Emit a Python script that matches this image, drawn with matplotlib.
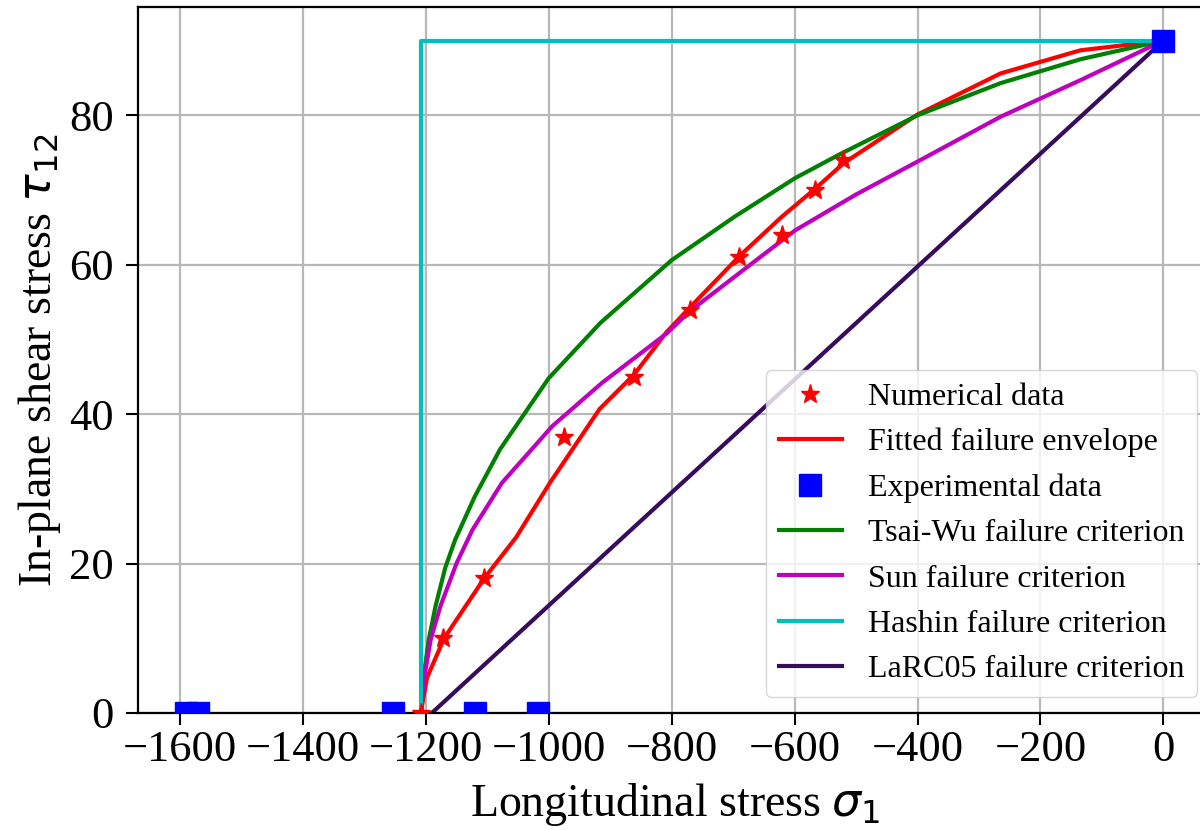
import numpy as np
import matplotlib
matplotlib.use('Agg')
import matplotlib.pyplot as plt

plt.rcParams['font.family'] = ['Liberation Serif', 'DejaVu Serif']
plt.rcParams['mathtext.fontset'] = 'dejavusans'

# Numerical data (stars)
num_x = [-1208, -1172, -1105, -975, -861, -770, -690, -620, -566, -521]
num_y = [0, 10, 18, 37, 45, 54, 61, 64, 70, 74]

# Fitted failure envelope
fit_x = [-1208, -1198, -1170, -1105, -1053, -998, -917, -861, -808, -770,
         -689, -621, -566, -520, -400, -265, -135, 0]
fit_y = [0, 4.7, 10, 18, 23.5, 30.8, 40.7, 45.3, 51, 54.3,
         61.2, 66.4, 70.2, 73.6, 80.1, 85.6, 88.7, 90]

# Experimental data (squares)
exp_x = [-1590, -1570, -1253, -1119, -1018, 0]
exp_y = [0, 0, 0, 0, 0, 90]

# Tsai-Wu
tw_x = [-1208, -1204, -1195, -1184, -1168, -1152, -1120, -1079, -1000, -916,
        -800, -698, -599, -526, -400, -265, -135, 0]
tw_y = [0, 4.5, 9.8, 14.3, 19.5, 23.2, 29, 35.3, 44.8, 52.2,
        60.6, 66.4, 71.6, 74.8, 80.0, 84.3, 87.5, 90]

# Sun
sun_x = [-1208, -1203, -1192, -1176, -1150, -1124, -1076, -994, -913, -808,
         -770, -672, -599, -500, -400, -265, -135, 0]
sun_y = [0, 4.4, 9.8, 14.3, 20, 24.5, 30.8, 38.4, 44.2, 50.8,
         53.8, 60, 64.6, 69.4, 73.8, 79.8, 84.7, 90]

# Hashin
hs_x = [-1208, -1208, 0]
hs_y = [0, 90, 90]

# LaRC05
lr_x = [-1190, 0]
lr_y = [0, 90]

fig = plt.figure(figsize=(12, 8.3), dpi=100)
ax = fig.add_axes([0.115, 0.141, 0.896, 0.8506])

lw = 3
ax.plot(num_x, num_y, '*', color='red', markersize=14, linestyle='none',
        zorder=3, label='Numerical data')
ax.plot(fit_x, fit_y, color='red', lw=lw, zorder=2, label='Fitted failure envelope')
ax.plot(exp_x, exp_y, 's', color='blue', markersize=15.5, linestyle='none',
        zorder=4, label='Experimental data')
ax.plot(tw_x, tw_y, color='g', lw=lw, zorder=2, label='Tsai-Wu failure criterion')
ax.plot(sun_x, sun_y, color='m', lw=lw, zorder=2, label='Sun failure criterion')
ax.plot(hs_x, hs_y, color='c', lw=lw, zorder=2, label='Hashin failure criterion')
ax.plot(lr_x, lr_y, color='#380c5c', lw=lw, zorder=2, label='LaRC05 failure criterion')

ax.set_xlim(-1668, 81)
ax.set_ylim(0, 94.5)
ax.set_xticks(np.arange(-1600, 1, 200))
ax.set_yticks(np.arange(0, 81, 20))
ax.grid(True, color='#b8b8b8', lw=1.6)
ax.set_axisbelow(True)

for s in ax.spines.values():
    s.set_linewidth(1.6)
ax.tick_params(axis='both', labelsize=32, length=8.5, width=1.5)
ax.tick_params(axis='y', pad=9)

ax.set_xlabel(r'Longitudinal stress $\sigma_1$', fontsize=33, labelpad=8)
ax.set_ylabel(r'In-plane shear stress $\tau_{12}$', fontsize=33)

ax.legend(loc='lower right', fontsize=23, labelspacing=0.5)

plt.savefig('out.png', dpi=100)
